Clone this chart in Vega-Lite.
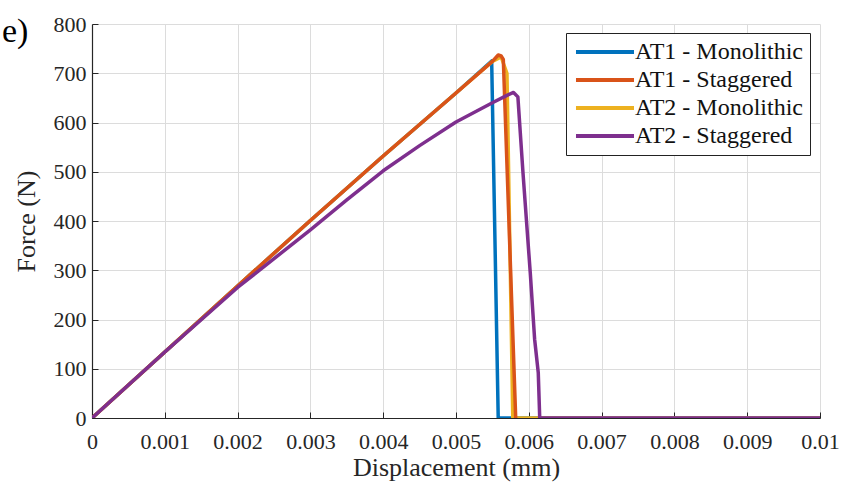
{
  "$schema": "https://vega.github.io/schema/vega-lite/v6.json",
  "width": 728,
  "height": 394,
  "autosize": {"type": "none"},
  "padding": {"left": 92, "top": 24, "right": 22, "bottom": 73},
  "background": "white",
  "title": {"text": "e)", "anchor": "start", "frame": "group", "orient": "top", "offset": 0, "dx": -90, "dy": 63, "baseline": "alphabetic", "font": "Liberation Serif", "fontSize": 34, "fontWeight": "normal", "color": "black"},
  "data": {"values": [
    {"s": "AT1 - Monolithic", "x": 0, "F": 0},
    {"s": "AT1 - Monolithic", "x": 0.001, "F": 134},
    {"s": "AT1 - Monolithic", "x": 0.002, "F": 268},
    {"s": "AT1 - Monolithic", "x": 0.003, "F": 401},
    {"s": "AT1 - Monolithic", "x": 0.004, "F": 532},
    {"s": "AT1 - Monolithic", "x": 0.005, "F": 660},
    {"s": "AT1 - Monolithic", "x": 0.00549, "F": 725},
    {"s": "AT1 - Monolithic", "x": 0.00558, "F": 0},
    {"s": "AT1 - Monolithic", "x": 0.01, "F": 0},
    {"s": "AT1 - Staggered", "x": 0, "F": 0},
    {"s": "AT1 - Staggered", "x": 0.001, "F": 134},
    {"s": "AT1 - Staggered", "x": 0.002, "F": 268},
    {"s": "AT1 - Staggered", "x": 0.003, "F": 401},
    {"s": "AT1 - Staggered", "x": 0.004, "F": 532},
    {"s": "AT1 - Staggered", "x": 0.005, "F": 660},
    {"s": "AT1 - Staggered", "x": 0.0055, "F": 724},
    {"s": "AT1 - Staggered", "x": 0.00558, "F": 737},
    {"s": "AT1 - Staggered", "x": 0.00562, "F": 735},
    {"s": "AT1 - Staggered", "x": 0.00565, "F": 728},
    {"s": "AT1 - Staggered", "x": 0.00582, "F": 0},
    {"s": "AT2 - Monolithic", "x": 0, "F": 0},
    {"s": "AT2 - Monolithic", "x": 0.001, "F": 134},
    {"s": "AT2 - Monolithic", "x": 0.002, "F": 268},
    {"s": "AT2 - Monolithic", "x": 0.003, "F": 401},
    {"s": "AT2 - Monolithic", "x": 0.004, "F": 532},
    {"s": "AT2 - Monolithic", "x": 0.005, "F": 660},
    {"s": "AT2 - Monolithic", "x": 0.0055, "F": 724},
    {"s": "AT2 - Monolithic", "x": 0.00562, "F": 733},
    {"s": "AT2 - Monolithic", "x": 0.0057, "F": 700},
    {"s": "AT2 - Monolithic", "x": 0.00578, "F": 0},
    {"s": "AT2 - Monolithic", "x": 0.01, "F": 0},
    {"s": "AT2 - Staggered", "x": 0, "F": 0},
    {"s": "AT2 - Staggered", "x": 0.001, "F": 134},
    {"s": "AT2 - Staggered", "x": 0.002, "F": 265},
    {"s": "AT2 - Staggered", "x": 0.003, "F": 382},
    {"s": "AT2 - Staggered", "x": 0.0035, "F": 443},
    {"s": "AT2 - Staggered", "x": 0.004, "F": 502},
    {"s": "AT2 - Staggered", "x": 0.0045, "F": 553},
    {"s": "AT2 - Staggered", "x": 0.005, "F": 601},
    {"s": "AT2 - Staggered", "x": 0.0055, "F": 640},
    {"s": "AT2 - Staggered", "x": 0.0057, "F": 655},
    {"s": "AT2 - Staggered", "x": 0.00579, "F": 661},
    {"s": "AT2 - Staggered", "x": 0.00585, "F": 652},
    {"s": "AT2 - Staggered", "x": 0.00592, "F": 498},
    {"s": "AT2 - Staggered", "x": 0.00602, "F": 295},
    {"s": "AT2 - Staggered", "x": 0.00608, "F": 160},
    {"s": "AT2 - Staggered", "x": 0.00613, "F": 92},
    {"s": "AT2 - Staggered", "x": 0.00615, "F": 0},
    {"s": "AT2 - Staggered", "x": 0.01, "F": 0}
  ]},
  "encoding": {
    "x": {"field": "x", "type": "quantitative", "scale": {"domain": [0, 0.01], "nice": false},
      "axis": {"title": "Displacement (mm)", "values": [0, 0.001, 0.002, 0.003, 0.004, 0.005, 0.006, 0.007, 0.008, 0.009, 0.01], "format": "~g", "labelPadding": 19, "titlePadding": 2}},
    "y": {"field": "F", "type": "quantitative", "scale": {"domain": [0, 800], "nice": false},
      "axis": {"title": "Force (N)", "values": [0, 100, 200, 300, 400, 500, 600, 700, 800], "labelPadding": 12, "titlePadding": 14}},
    "color": {"field": "s", "type": "nominal",
      "scale": {"domain": ["AT1 - Monolithic", "AT1 - Staggered", "AT2 - Monolithic", "AT2 - Staggered"], "range": ["#0072BD", "#D95319", "#EDB120", "#7E2F8E"]},
      "legend": {"title": null, "orient": "none", "legendX": 474, "legendY": 9, "symbolType": "M-3,0H3", "symbolSize": 374, "symbolStrokeWidth": 4, "symbolOffset": 20, "labelFont": "Liberation Serif", "labelFontSize": 24, "labelLimit": 400, "labelColor": "#111", "strokeColor": "#222", "fillColor": "white", "padding": 7, "rowPadding": 4, "labelOffset": 18}}
  },
  "layer": [
    {"transform": [{"filter": "datum.s == 'AT1 - Monolithic'"}], "mark": {"type": "line", "strokeWidth": 3.5, "strokeJoin": "round", "clip": true}},
    {"transform": [{"filter": "datum.s == 'AT2 - Monolithic'"}], "mark": {"type": "line", "strokeWidth": 3.5, "strokeJoin": "round", "clip": true}},
    {"transform": [{"filter": "datum.s == 'AT1 - Staggered'"}], "mark": {"type": "line", "strokeWidth": 3.5, "strokeJoin": "round", "clip": true}},
    {"transform": [{"filter": "datum.s == 'AT2 - Staggered'"}], "mark": {"type": "line", "strokeWidth": 3.5, "strokeJoin": "round", "clip": true}}
  ],
  "config": {
    "view": {"stroke": null},
    "axis": {"labelFont": "Liberation Serif", "titleFont": "Liberation Serif", "labelFontSize": 22, "titleFontSize": 26, "titleFontWeight": "normal", "labelColor": "#262626", "titleColor": "#262626", "domainColor": "#262626", "domainWidth": 1.2, "tickColor": "#262626", "tickSize": -6, "gridColor": "#dcdcdc", "gridWidth": 1, "labelFlush": false, "labelOverlap": false}
  }
}
